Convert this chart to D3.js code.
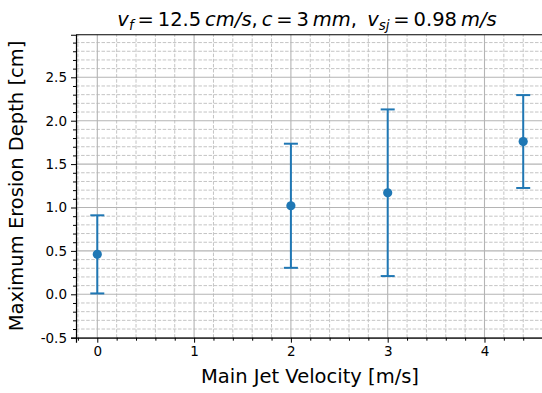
<!DOCTYPE html>
<html>
<head>
<meta charset="utf-8">
<script src="https://cdn.jsdelivr.net/npm/d3@7"></script>
<style>
body { margin: 0; background: #fff; }
svg { display: block; overflow: hidden; }
text { font-family: 'DejaVu Sans', sans-serif; fill: #000; }
</style>
</head>
<body>
<svg id="chart" width="542" height="393"></svg>
<script>
'use strict';

// main jet velocity [m/s]
var velocities = [0, 2, 3, 4.4];
// mean max erosion depth [cm] and its spread
var depths = [0.46, 1.02, 1.17, 1.76];
var errors = [0.45, 0.715, 0.96, 0.535];

var xTicks = [0, 1, 2, 3, 4];
var yTicks = [-0.5, 0.0, 0.5, 1.0, 1.5, 2.0, 2.5];
var xMinor = d3.range(-0.2, 4.61, 0.2);
var yMinor = d3.range(-0.5, 2.95, 0.1);

var blue = '#1f77b4';
var plotLeft = 76, plotBottom = 337.7;

var svg = d3.select('#chart');

var x = d3.scaleLinear()
    .domain([-0.22, 4.62])
    .range([plotLeft, plotLeft + 4.84 * 96.8]);

var y = d3.scaleLinear()
    .domain([-0.5, 2.99])
    .range([plotBottom, plotBottom - 3.49 * 86.8]);

function isMajor(v, list) {
	return list.some(t => Math.abs(t - v) < 1e-6);
}

// dashed minor grid first, solid major grid on top of it
var grid = svg.append('g');
grid.selectAll('.minx')
	.data(xMinor.filter(v => !isMajor(v, xTicks)))
  .enter().append('line')
	.attr('x1', d => x(d)).attr('x2', d => x(d))
	.attr('y1', y.range()[0]).attr('y2', y.range()[1])
	.attr('stroke', '#c4c4c4').attr('stroke-width', 1).attr('stroke-dasharray', '3.5,1.6');
grid.selectAll('.miny')
	.data(yMinor.filter(v => !isMajor(v, yTicks)))
  .enter().append('line')
	.attr('x1', x.range()[0]).attr('x2', x.range()[1])
	.attr('y1', d => y(d)).attr('y2', d => y(d))
	.attr('stroke', '#c4c4c4').attr('stroke-width', 1).attr('stroke-dasharray', '3.5,1.6');
grid.selectAll('.majx')
	.data(xTicks)
  .enter().append('line')
	.attr('x1', d => x(d)).attr('x2', d => x(d))
	.attr('y1', y.range()[0]).attr('y2', y.range()[1])
	.attr('stroke', '#b4b4b4').attr('stroke-width', 1.1);
grid.selectAll('.majy')
	.data(yTicks)
  .enter().append('line')
	.attr('x1', x.range()[0]).attr('x2', x.range()[1])
	.attr('y1', d => y(d)).attr('y2', d => y(d))
	.attr('stroke', '#b4b4b4').attr('stroke-width', 1.1);

// axes
var xAxis = svg.append('g')
	.attr('transform', 'translate(0,' + plotBottom + ')')
	.call(d3.axisBottom(x).tickValues(xTicks).tickFormat(d3.format('d')).tickSize(5).tickPadding(4));
svg.append('g')
	.attr('transform', 'translate(0,' + plotBottom + ')')
	.call(d3.axisBottom(x).tickValues(xMinor.filter(v => !isMajor(v, xTicks))).tickFormat('').tickSize(3))
	.select('.domain').remove();

var yAxis = svg.append('g')
	.attr('transform', 'translate(' + plotLeft + ',0)')
	.call(d3.axisLeft(y).tickValues(yTicks).tickFormat(d3.format('.1f')).tickSize(5).tickPadding(4));
svg.append('g')
	.attr('transform', 'translate(' + plotLeft + ',0)')
	.call(d3.axisLeft(y).tickValues(yMinor.filter(v => !isMajor(v, yTicks))).tickFormat('').tickSize(3))
	.select('.domain').remove();

svg.selectAll('.tick text').style('font-size', '13.5px').style('font-family', 'DejaVu Sans');
svg.selectAll('.domain').attr('stroke-width', 1.2);
svg.selectAll('.tick line').attr('stroke-width', 1);
// matplotlib uses a plain hyphen-minus
yAxis.selectAll('.tick text').text(d => d3.format('.1f')(d).replace('\u2212', '-'));

// top spine
svg.append('line')
	.attr('x1', x.range()[0]).attr('x2', x.range()[1])
	.attr('y1', y.range()[1]).attr('y2', y.range()[1])
	.attr('stroke', '#000').attr('stroke-width', 1.2);

// error bars
var bars = svg.append('g').selectAll('g')
	.data(velocities)
  .enter().append('g');

bars.append('line')
	.attr('x1', d => x(d)).attr('x2', d => x(d))
	.attr('y1', (d, i) => y(depths[i] - errors[i]))
	.attr('y2', (d, i) => y(depths[i] + errors[i]))
	.attr('stroke', blue).attr('stroke-width', 2);
[-1, 1].forEach(function(s) {
	bars.append('line')
		.attr('x1', d => x(d) - 7).attr('x2', d => x(d) + 7)
		.attr('y1', (d, i) => y(depths[i] + s * errors[i]))
		.attr('y2', (d, i) => y(depths[i] + s * errors[i]))
		.attr('stroke', blue).attr('stroke-width', 2);
});
bars.append('circle')
	.attr('cx', d => x(d))
	.attr('cy', (d, i) => y(depths[i]))
	.attr('r', 4.6)
	.attr('fill', blue);

// labels
svg.append('text')
	.attr('x', 310).attr('y', 383)
	.attr('text-anchor', 'middle')
	.style('font-size', '19.5px')
	.text('Main Jet Velocity [m/s]');

svg.append('text')
	.attr('transform', 'translate(23,186) rotate(-90)')
	.attr('text-anchor', 'middle')
	.style('font-size', '19.5px')
	.text('Maximum Erosion Depth [cm]');

// title, mathtext style: italic symbols, upright numbers
var titleParts = [
	['v', 1, 0], ['f', 1, 1], ['\u2009=\u200912.5\u2009', 0, 0], ['cm/s', 1, 0], [',\u2009', 0, 0],
	['c', 1, 0], ['\u2009=\u20093\u2009', 0, 0], ['mm', 1, 0], [', \u2009', 0, 0],
	['v', 1, 0], ['sj', 1, 1], ['\u2009=\u20090.98\u2009', 0, 0], ['m/s', 1, 0]
];
var title = svg.append('text')
	.attr('x', 307).attr('y', 26)
	.attr('text-anchor', 'middle')
	.style('font-size', '19.5px');
var prevSub = 0;
titleParts.forEach(function(p) {
	var t = title.append('tspan')
		.style('font-style', p[1] ? 'italic' : 'normal')
		.text(p[0]);
	if (p[2]) t.attr('dy', 3.5).style('font-size', '13.5px');
	else if (prevSub) t.attr('dy', -3.5);
	prevSub = p[2];
});
</script>
</body>
</html>
